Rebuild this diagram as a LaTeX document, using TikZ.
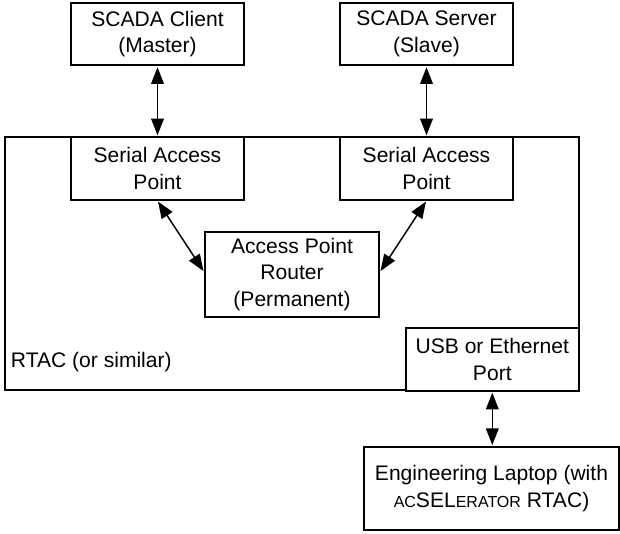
\documentclass[tikz,border=0pt]{standalone}
\usepackage{fontspec}
\setmainfont{Liberation Sans}
\usetikzlibrary{arrows.meta}
\begin{document}
\begin{tikzpicture}[x=0.75pt,y=-0.75pt,
  font=\fontsize{15.8}{20}\selectfont,
  box/.style={draw, line width=1.5pt, align=center, inner sep=0pt, fill=white},
  std/.style={box, minimum width=129.75pt, minimum height=46.9pt},
  link/.style={line width=1.1pt, {Triangle[length=12.5pt,width=9.5pt]}-{Triangle[length=12.5pt,width=9.5pt]}, shorten <=0.7pt, shorten >=0.7pt}]
\useasboundingbox (0,0) rectangle (620,533);
% RTAC enclosure
\node[draw, line width=1.5pt, inner sep=0pt, minimum width=430.7pt, minimum height=189.75pt] (rtac) at (291.85,263.5) {};
\node[anchor=west, inner sep=0pt] (rtaclbl) at (10.7,362) {RTAC (or similar)};
% boxes
\node[std] (client) at (157.5,34) {SCADA Client\\(Master)};
\node[std] (server) at (426.5,34) {SCADA Server\\(Slave)};
\node[std] (sapL) at (157.5,168.5) {Serial Access\\Point};
\node[std] (sapR) at (426.5,168.5) {Serial Access\\Point};
\node[box, minimum width=130.5pt, minimum height=63.75pt] (router) at (292,274.5) {Access Point\\Router\\(Permanent)};
\node[std] (usb) at (492.3,359.5) {USB or Ethernet\\Port};
\node[box, minimum width=191.25pt, minimum height=62.25pt] (laptop) at (491.5,488.5) {Engineering Laptop (with\\{\fontsize{12}{20}\selectfont AC}SEL{\fontsize{12}{20}\selectfont ERATOR} RTAC)};
% connectors
\draw[link] (client.south) -- (sapL.north);
\draw[link] (server.south) -- (sapR.north);
\draw[link] (sapL.south) -- ([yshift=2pt]router.west);
\draw[link] (sapR.south) -- ([yshift=2pt]router.east);
\draw[link] (usb.south) -- (usb.south |- laptop.north);
\end{tikzpicture}
\end{document}
